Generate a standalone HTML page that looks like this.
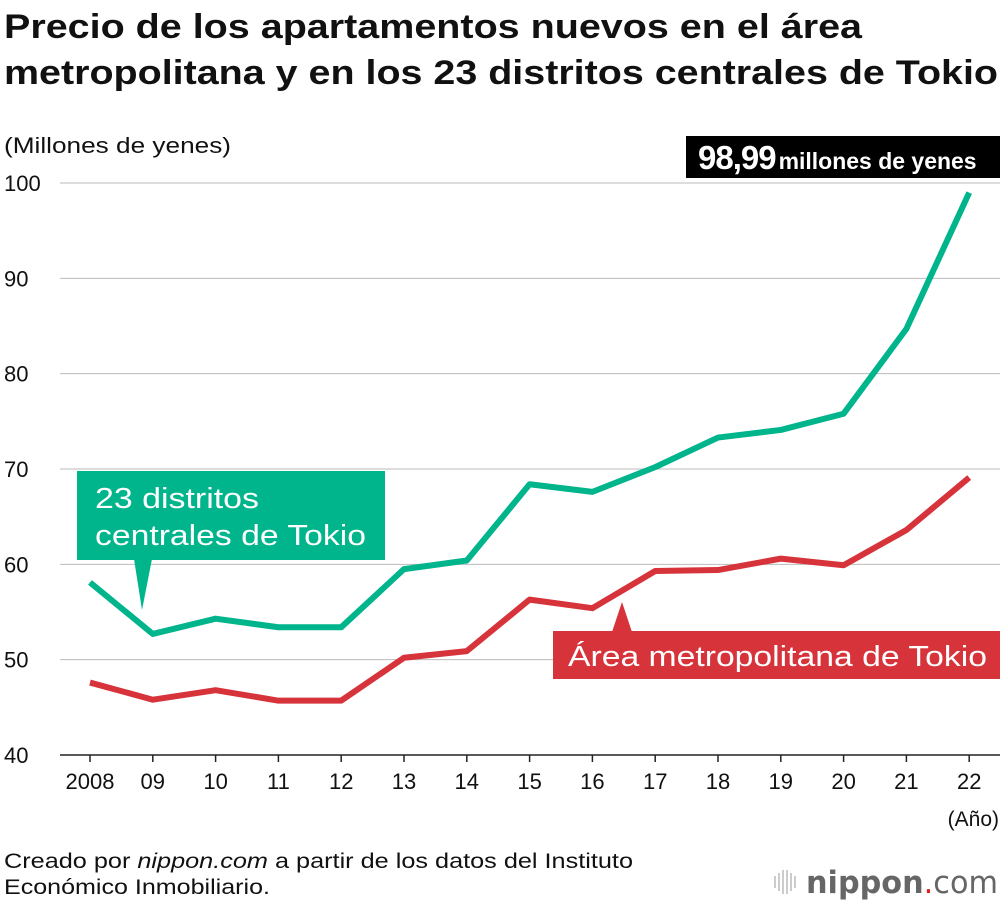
<!DOCTYPE html>
<html><head><meta charset="utf-8"><style>
body{margin:0;width:1000px;height:904px;background:#fff;overflow:hidden;font-family:"Liberation Sans",sans-serif;}
</style></head><body>
<svg width="1000" height="904" xmlns="http://www.w3.org/2000/svg" font-family="Liberation Sans, sans-serif" id="chart">
<text x="4" y="38" font-size="34" font-weight="bold" fill="#111" textLength="858" lengthAdjust="spacingAndGlyphs">Precio de los apartamentos nuevos en el área</text>
<text x="4" y="84" font-size="34" font-weight="bold" fill="#111" textLength="994" lengthAdjust="spacingAndGlyphs">metropolitana y en los 23 distritos centrales de Tokio</text>
<text x="4" y="153" font-size="22" fill="#111" textLength="227" lengthAdjust="spacingAndGlyphs">(Millones de yenes)</text>
<g id="grid"></g>
<g id="xaxis"></g>
<g id="lines"></g>
<rect x="686" y="136" width="314" height="42" fill="#000"/>
<text x="698" y="169" fill="#fff"><tspan font-size="33" font-weight="bold" letter-spacing="-1">98,99</tspan><tspan font-size="23" font-weight="bold" dx="3" textLength="198" lengthAdjust="spacingAndGlyphs">millones de yenes</tspan></text>
<g>
<rect x="77" y="471" width="308" height="89" fill="#00b48c"/>
<polygon points="134,559 152,559 142,610" fill="#00b48c"/>
<text x="95" y="508" font-size="29" fill="#fff" textLength="164" lengthAdjust="spacingAndGlyphs">23 distritos</text>
<text x="95" y="545" font-size="29" fill="#fff" textLength="271" lengthAdjust="spacingAndGlyphs">centrales de Tokio</text>
</g>
<g>
<rect x="553" y="631" width="447" height="48" fill="#d7333a"/>
<polygon points="612,632 632,632 622,602" fill="#d7333a"/>
<text x="568" y="666" font-size="29" fill="#fff" textLength="419" lengthAdjust="spacingAndGlyphs">Área metropolitana de Tokio</text>
</g>
<text x="999" y="826" font-size="21" text-anchor="end" fill="#111">(Año)</text>
<text x="4" y="868" font-size="21" fill="#111" textLength="629" lengthAdjust="spacingAndGlyphs">Creado por <tspan font-style="italic">nippon.com</tspan> a partir de los datos del Instituto</text>
<text x="4" y="894" font-size="21" fill="#111" textLength="266" lengthAdjust="spacingAndGlyphs">Económico Inmobiliario.</text>
<g>
<g stroke="#bbb" stroke-width="1.5"><line x1="775" y1="876" x2="775" y2="888"/><line x1="779" y1="873" x2="779" y2="891"/><line x1="783" y1="870" x2="783" y2="894"/><line x1="787" y1="870" x2="787" y2="894"/><line x1="791" y1="873" x2="791" y2="891"/><line x1="795" y1="876" x2="795" y2="888"/></g>
<text x="806" y="893" font-size="31" fill="#666" font-family="DejaVu Sans, sans-serif" textLength="192" lengthAdjust="spacingAndGlyphs"><tspan font-weight="bold">nippon</tspan><tspan fill="#e02020">.</tspan><tspan>com</tspan></text>
</g>
</svg>
<script>
const years=['2008','09','10','11','12','13','14','15','16','17','18','19','20','21','22'];
const yTicks=[40,50,60,70,80,90,100];
const central=[58.1,52.7,54.3,53.4,53.4,59.5,60.4,68.4,67.6,70.2,73.3,74.1,75.8,84.7,98.99];
const metro=[47.6,45.8,46.8,45.7,45.7,50.2,50.9,56.3,55.4,59.3,59.4,60.6,59.9,63.6,69.1];
const NS='http://www.w3.org/2000/svg';
function xs(i){return 90+i*62.8;}
function ys(v){return 755-(v-40)*9.533;}
function mk(t,a,p){const e=document.createElementNS(NS,t);for(const k in a)e.setAttribute(k,a[k]);p.appendChild(e);return e;}
const g=document.getElementById('grid'),xa=document.getElementById('xaxis'),L=document.getElementById('lines');
yTicks.forEach(v=>{
 const l=mk('line',{x1:60,x2:1000,y1:ys(v),y2:ys(v),stroke:v===40?'#222':'#bbb','stroke-width':v===40?1.5:1},g);
 
 
 const t=mk('text',{x:4,y:ys(v)+8,'font-size':22,fill:'#111'},g);t.textContent=v;
 
 
});
years.forEach((y,i)=>{
 mk('line',{x1:xs(i),x2:xs(i),y1:755,y2:762,stroke:'#222','stroke-width':1.5},xa);
 const t=mk('text',{x:xs(i),y:789,'font-size':22,fill:'#111','text-anchor':'middle'},xa);t.textContent=y;
 
 
});
function line(d,c,n){
 const p=mk('polyline',{points:d.map((v,i)=>xs(i)+','+ys(v)).join(' '),fill:'none',stroke:c,'stroke-width':6,'stroke-linejoin':'round'},L);
 
 
}
line(metro,'#d7333a','metro-line');
line(central,'#00b48c','central-line');
</script>
</body></html>
